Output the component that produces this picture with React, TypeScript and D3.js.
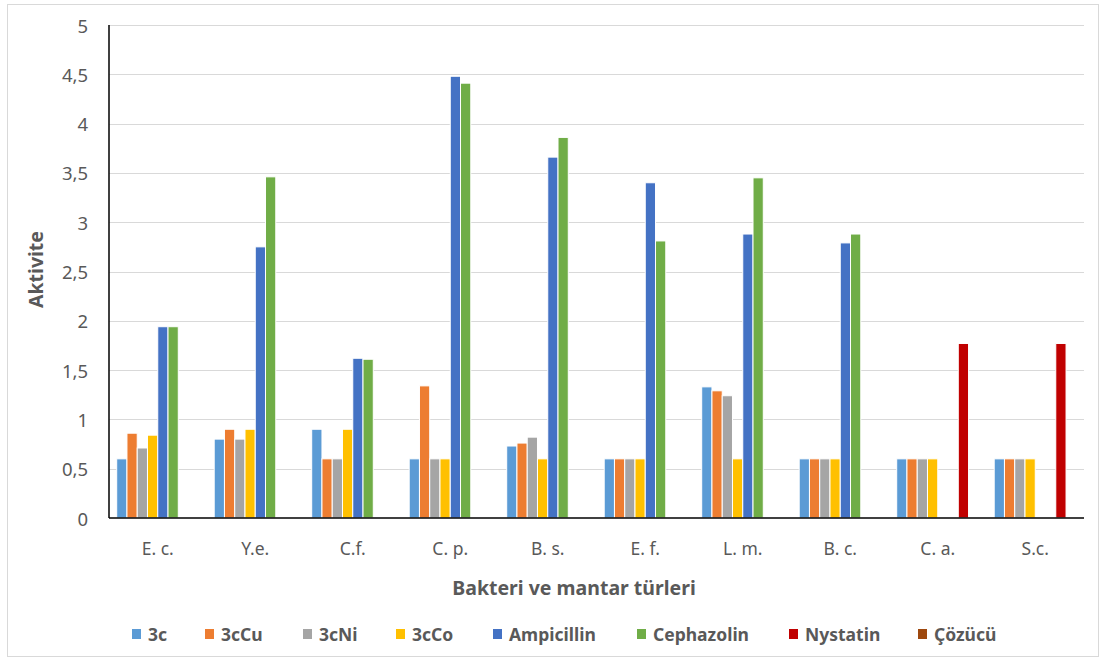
import React from "react";
import * as d3 from "d3";

const categories = ["E. c.", "Y.e.", "C.f.", "C. p.", "B. s.", "E. f.", "L. m.", "B. c.", "C. a.", "S.c."];
const seriesNames = ["3c", "3cCu", "3cNi", "3cCo", "Ampicillin", "Cephazolin", "Nystatin", "Çözücü"];
const seriesColors = ["#5B9BD5", "#ED7D31", "#A5A5A5", "#FFC000", "#4472C4", "#70AD47", "#C00000", "#9E480E"];

const v3c = [0.6, 0.8, 0.9, 0.6, 0.73, 0.6, 1.33, 0.6, 0.6, 0.6];
const v3cCu = [0.86, 0.9, 0.6, 1.34, 0.76, 0.6, 1.29, 0.6, 0.6, 0.6];
const v3cNi = [0.71, 0.8, 0.6, 0.6, 0.82, 0.6, 1.24, 0.6, 0.6, 0.6];
const v3cCo = [0.84, 0.9, 0.9, 0.6, 0.6, 0.6, 0.6, 0.6, 0.6, 0.6];
const vAmpicillin = [1.94, 2.75, 1.62, 4.48, 3.66, 3.4, 2.88, 2.79, null, null];
const vCephazolin = [1.94, 3.46, 1.61, 4.41, 3.86, 2.81, 3.45, 2.88, null, null];
const vNystatin = [null, null, null, null, null, null, null, null, 1.77, 1.77];
const vCozucu = [null, null, null, null, null, null, null, null, null, null];

const seriesValues: (number | null)[][] = [v3c, v3cCu, v3cNi, v3cCo, vAmpicillin, vCephazolin, vNystatin, vCozucu];
const yTicks = [0, 0.5, 1, 1.5, 2, 2.5, 3, 3.5, 4, 4.5, 5];

const W = 1103;
const H = 660;
const left = 109;
const right = 1084;
const top = 25;
const bottom = 518;
const FONT = "'Noto Sans', 'Open Sans', sans-serif";
const TXT = "#595959";

const legendX = [132, 205, 303, 396, 493, 637, 789, 918];

export default function App() {
  const x0 = d3.scaleBand<string>().domain(categories).range([left, right]).paddingInner(0).paddingOuter(0);
  const bw = x0.bandwidth();
  const gap = (bw * 1.5) / 9.5;
  const x1 = d3.scaleBand<string>().domain(seriesNames).range([gap / 2, bw - gap / 2]).padding(0);
  const y = d3.scaleLinear().domain([0, 5]).range([bottom, top]);
  const fmt = (v: number) => String(v).replace(".", ",");

  return (
    <svg width={W} height={H} style={{ position: "absolute", left: 0, top: 0, background: "#fff" }}>
      <rect x={7.5} y={4.5} width={1091} height={652} fill="#fff" stroke="#D9D9D9" strokeWidth={1} />
      {yTicks.map((t) => (
        <g key={t}>
          {t > 0 && (
            <line x1={left} x2={right} y1={Math.round(y(t)) + 0.5} y2={Math.round(y(t)) + 0.5} stroke="#D9D9D9" strokeWidth={1} />
          )}
          <text x={88} y={y(t)} textAnchor="end" dominantBaseline="central" fontFamily={FONT} fontSize={18.5} fill={TXT}>
            {fmt(t)}
          </text>
        </g>
      ))}
      {categories.map((c, ci) => (
        <g key={c}>
          {seriesNames.map((s, si) => {
            const v = seriesValues[si][ci];
            if (v === null || v === undefined) return null;
            const xx = (x0(c) as number) + (x1(s) as number);
            return (
              <rect
                key={s}
                x={xx}
                y={y(v)}
                width={x1.bandwidth()}
                height={y(0) - y(v)}
                fill={seriesColors[si]}
                stroke="#fff"
                strokeWidth={1}
              />
            );
          })}
          <text x={(x0(c) as number) + bw / 2} y={548} textAnchor="middle" dominantBaseline="central" fontFamily={FONT} fontSize={17.5} fill={TXT}>
            {c}
          </text>
        </g>
      ))}
      <line x1={left} x2={left} y1={top} y2={bottom} stroke="#000" strokeWidth={1.5} />
      <line x1={left} x2={right} y1={bottom} y2={bottom} stroke="#000" strokeWidth={1.5} />
      <text
        transform={`translate(35, ${(top + bottom) / 2 - 2}) rotate(-90)`}
        textAnchor="middle"
        dominantBaseline="central"
        fontFamily={FONT}
        fontWeight="bold"
        fontSize={19.5}
        fill={TXT}
      >
        Aktivite
      </text>
      <text x={574} y={587} textAnchor="middle" dominantBaseline="central" fontFamily={FONT} fontWeight="bold" fontSize={19.5} fill={TXT}>
        Bakteri ve mantar türleri
      </text>
      {seriesNames.map((s, i) => (
        <g key={s}>
          <rect x={legendX[i]} y={629} width={9} height={10} fill={seriesColors[i]} />
          <text x={legendX[i] + 16} y={634} dominantBaseline="central" fontFamily={FONT} fontWeight="bold" fontSize={17.5} fill={TXT}>
            {s}
          </text>
        </g>
      ))}
    </svg>
  );
}
